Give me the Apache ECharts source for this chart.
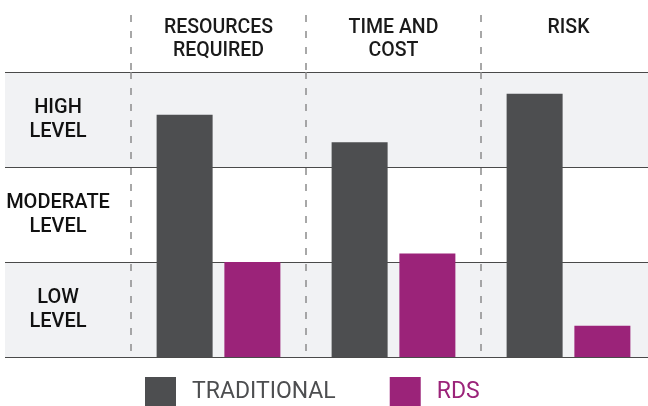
<!DOCTYPE html>
<html>
<head>
<meta charset="utf-8">
<script src="https://cdn.jsdelivr.net/npm/echarts@6/dist/echarts.min.js"></script>
<style>
    html, body { margin: 0; padding: 0; background: #fff; }
    #chart { width: 648px; height: 406px; }
</style>
</head>
<body>
<div id="chart"></div>
<script>
var categories = ['RESOURCES\nREQUIRED', 'TIME AND\nCOST', 'RISK'];
var levels = ['LOW\nLEVEL', 'MODERATE\nLEVEL', 'HIGH\nLEVEL'];
var traditional = [2.55, 2.26, 2.77];
var rds = [1.0, 1.09, 0.33];

var font = 'Roboto, sans-serif';
var dashStyle = {color: '#8c8c8c', width: 1.5, type: [7, 9]};
var myChart = echarts.init(document.getElementById('chart'));

var option = {
    animation: false,
    grid: [
        {left: 131, width: 525, top: 72, height: 285, outerBoundsMode: 'none'},
        {left: 5, width: 126, top: 72, height: 285, outerBoundsMode: 'none'},
        // header strip, only for the dashed separators above the plot
        {left: 131, width: 525, top: 15, height: 57, outerBoundsMode: 'none'}
    ],
    legend: {
        left: 145,
        top: 377,
        padding: 0,
        icon: 'rect',
        itemWidth: 31,
        itemHeight: 30,
        itemGap: 54,
        textStyle: {
            color: 'inherit',
            fontFamily: 'Roboto',
            fontSize: 23,
            padding: [9, 0, 0, 11]
        },
        data: ['TRADITIONAL', 'RDS']
    },
    xAxis: [
        {
            type: 'category',
            gridIndex: 0,
            position: 'top',
            data: categories,
            axisLine: {show: true, lineStyle: {color: '#4a4a4a', width: 1}},
            axisTick: {show: false},
            axisLabel: {
                interval: 0,
                color: '#1a1a1a',
                fontFamily: font,
                fontWeight: 500,
                fontSize: 19.5,
                lineHeight: 23,
                verticalAlign: 'top',
                margin: 55
            },
            splitLine: {show: true, lineStyle: dashStyle}
        },
        {
            type: 'value',
            gridIndex: 1,
            show: false
        },
        {
            type: 'category',
            gridIndex: 2,
            data: categories,
            axisLine: {show: false},
            axisTick: {show: false},
            axisLabel: {show: false},
            splitLine: {show: true, lineStyle: dashStyle}
        }
    ],
    yAxis: [
        {
            type: 'value',
            gridIndex: 0,
            min: 0,
            max: 3,
            interval: 1,
            show: false
        },
        {
            type: 'category',
            gridIndex: 0,
            position: 'left',
            data: levels,
            axisLine: {show: false},
            axisTick: {show: false},
            axisLabel: {
                interval: 0,
                color: '#111',
                fontFamily: font,
                fontWeight: 500,
                fontSize: 20,
                lineHeight: 24,
                align: 'center',
                margin: 73
            },
            splitArea: {show: true, areaStyle: {color: ['#f1f2f4', '#ffffff']}},
            splitLine: {show: true, lineStyle: {color: '#4a4a4a', width: 1}}
        },
        {
            type: 'category',
            gridIndex: 1,
            data: levels,
            axisLine: {show: false},
            axisTick: {show: false},
            axisLabel: {show: false},
            splitArea: {show: true, areaStyle: {color: ['#f1f2f4', '#ffffff']}},
            splitLine: {show: true, lineStyle: {color: '#4a4a4a', width: 1}}
        },
        {
            type: 'value',
            gridIndex: 2,
            show: false
        }
    ],
    series: [
        {
            name: 'TRADITIONAL',
            type: 'bar',
            xAxisIndex: 0,
            yAxisIndex: 0,
            barWidth: 56,
            barGap: '21%',
            itemStyle: {color: '#4d4e50'},
            data: traditional
        },
        {
            name: 'RDS',
            type: 'bar',
            xAxisIndex: 0,
            yAxisIndex: 0,
            barWidth: 56,
            barGap: '21%',
            itemStyle: {color: '#9b2379'},
            data: rds
        }
    ]
};

myChart.setOption(option);
window.addEventListener('resize', function () {
    myChart.resize();
});
</script>
</body>
</html>
